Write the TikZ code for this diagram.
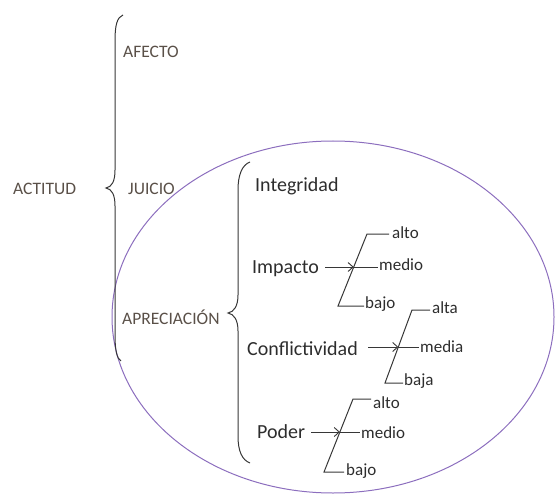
\documentclass[tikz,border=0pt]{standalone}
\usepackage{fontspec}
\setmainfont{Carlito}
\usetikzlibrary{arrows.meta,calc}
\definecolor{lab}{RGB}{90,80,72}
\definecolor{txt}{RGB}{45,45,45}
\definecolor{ellc}{RGB}{140,110,190}
\definecolor{lnc}{RGB}{55,55,55}
\begin{document}
\begin{tikzpicture}[x=1pt,y=-1pt,
  cat/.style={font=\fontsize{17.5}{20}\selectfont, text=lab, inner sep=0pt, anchor=base west},
  sub/.style={font=\fontsize{20}{24}\selectfont, text=txt, inner sep=0pt, anchor=base west},
  lvl/.style={font=\fontsize{17}{20}\selectfont, text=txt, inner sep=0pt, anchor=base west},
  br/.style={line width=1pt, draw=lnc},
  tree/.style={line width=1pt, draw=lnc},
  arr/.style={line width=0.9pt, draw=lnc, -{Straight Barb[length=5pt,width=9pt]}}]
\useasboundingbox (0,0) rectangle (556,497);

% ellipse
\draw[ellc, line width=1pt] (333,317) ellipse [x radius=221pt, y radius=176pt];

% category labels
\node[cat] (actitud) at (13,194) {ACTITUD};
\node[cat] (afecto) at (123,58) {AFECTO};
\node[cat] (juicio) at (128,194) {JUICIO};
\node[cat] (aprec) at (122,324) {APRECIACIÓN};

% big brace
\draw[br] (123,15) .. controls (117,17) and (115,26) .. (115,40) -- (115,170)
  .. controls (115,181) and (112,187) .. (106,188)
  .. controls (112,189) and (115,195) .. (115,206) -- (115,336)
  .. controls (115,350) and (117,359) .. (121,361);

% second brace
\draw[br] (250,162) .. controls (242,165) and (238,175) .. (238,190) -- (238,295)
  .. controls (238,306) and (234,312) .. (228,313)
  .. controls (234,314) and (238,320) .. (238,331) -- (238,436)
  .. controls (238,451) and (242,460) .. (250,463);

% sub labels
\node[sub] (integ) at (255,191) {Integridad};
\node[sub] (impacto) at (252,273) {Impacto};
\node[sub] (conf) at (247,355) {Conflictividad};
\node[sub] (poder) at (257,438) {Poder};

% Impacto tree
\coordinate (i1) at (367,234);
\coordinate (i2) at (338,306);
\coordinate (im) at (353.7,267);
\node[lvl] (ialto) at (392,238) {alto};
\node[lvl] (imedio) at (379,270) {medio};
\node[lvl] (ibajo) at (365,308) {bajo};
\draw[tree] (ialto.west |- i1) ++(-3,0) coordinate (i1e) (i1e) -- (i1) -- (i2) -- ($(ibajo.west |- i2)+(-1,0)$);
\draw[tree] (im) -- ($(imedio.west |- im)+(-1,0)$);
\draw[arr] ($(impacto.east |- im)+(6,0)$) -- (im);

% Conflictividad tree
\coordinate (c1) at (412,310);
\coordinate (c2) at (385,383);
\coordinate (cm) at (398.3,347);
\node[lvl] (calta) at (432,313) {alta};
\node[lvl] (cmedia) at (420,352) {media};
\node[lvl] (cbaja) at (404,385) {baja};
\draw[tree] ($(calta.west |- c1)+(-2,0)$) -- (c1) -- (c2) -- ($(cbaja.west |- c2)+(-1,0)$);
\draw[tree] (cm) -- ($(cmedia.west |- cm)+(-1,0)$);
\draw[arr] ($(conf.east |- cm)+(10,0)$) -- (cm);

% Poder tree
\coordinate (p1) at (353,399);
\coordinate (p2) at (324,472);
\coordinate (pm) at (339.9,432);
\node[lvl] (palto) at (373,408) {alto};
\node[lvl] (pmedio) at (361,438) {medio};
\node[lvl] (pbajo) at (346,475) {bajo};
\draw[tree] ($(palto.west |- p1)+(-2,0)$) -- (p1) -- (p2) -- ($(pbajo.west |- p2)+(-2,0)$);
\draw[tree] (pm) -- ($(pmedio.west |- pm)+(-1,0)$);
\draw[arr] ($(poder.east |- pm)+(6,0)$) -- (pm);
\end{tikzpicture}
\end{document}
